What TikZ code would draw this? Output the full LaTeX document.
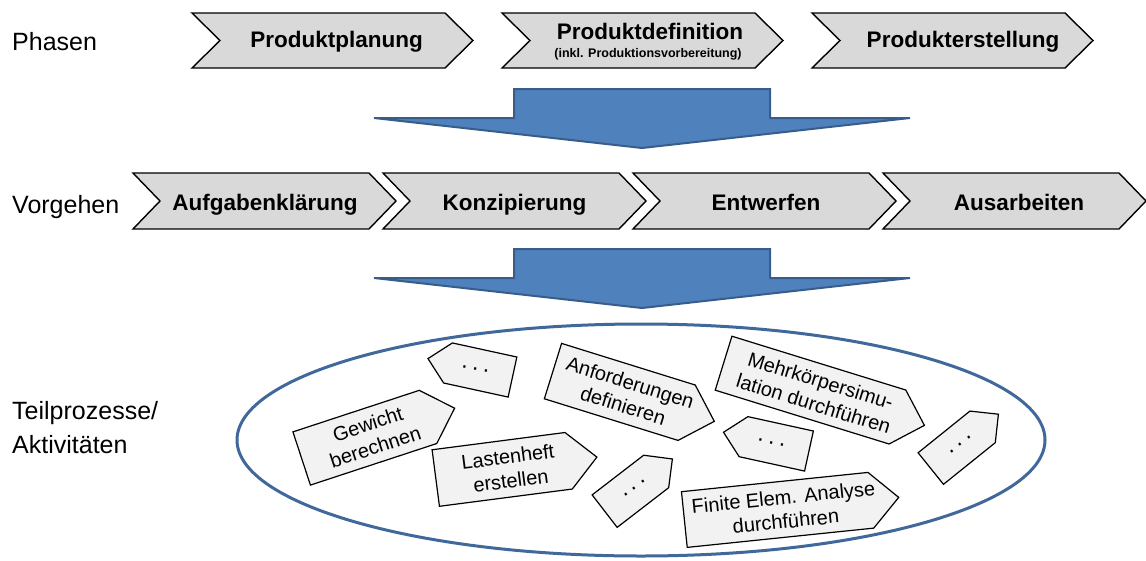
\documentclass[tikz,border=0pt]{standalone}
\usepackage{fontspec}
\setmainfont{Liberation Sans}

\definecolor{chevfill}{HTML}{D9D9D9}
\definecolor{actfill}{HTML}{F2F2F2}
\definecolor{arrowfill}{HTML}{4F81BD}
\definecolor{arrowline}{HTML}{385D8A}
\definecolor{ringline}{HTML}{41689A}

\tikzset{
  chevbox/.style={draw=black, line width=1.4pt, fill=chevfill, line join=miter},
  chevtext/.style={anchor=base, inner sep=0pt, font=\fontsize{22.5}{26}\selectfont\bfseries},
  chevsub/.style={anchor=base, inner sep=0pt, font=\fontsize{12.5}{15}\selectfont\bfseries},
  rowlabel/.style={anchor=base west, inner sep=0pt, font=\fontsize{25}{30}\selectfont},
  bigarrow/.style={draw=arrowline, line width=2pt, fill=arrowfill, line join=miter},
  ring/.style={draw=ringline, line width=3pt, fill=white},
  actbox/.style={draw=black, line width=1.2pt, fill=actfill, line join=miter},
  acttext/.style={inner sep=0pt, align=center, font=\fontsize{20}{24}\selectfont},
}

% chevron: left x, top y, total length, height, notch/tip depth
\newcommand\chevshape[5]{%
  \draw[chevbox] (#1,#2) -- ({#1+#3-#5},#2) -- ({#1+#3},{#2+#4/2})
    -- ({#1+#3-#5},{#2+#4}) -- (#1,{#2+#4}) -- ({#1+#5},{#2+#4/2}) -- cycle;}

% activity tag: name, body centre x, y, angle, body width, height, side (1 right / -1 left), text
\newcommand\activity[8]{%
  \begin{scope}[shift={(#2,#3)}, rotate=#4]
    \draw[actbox, xscale=#7] ({-#5/2},{-#6/2}) -- ({#5/2},{-#6/2}) -- ({#5/2+#6/2},0)
      -- ({#5/2},{#6/2}) -- ({-#5/2},{#6/2}) -- cycle;
    \node[acttext, rotate=#4] (#1) at ({#7*#6/8},0) {#8};
  \end{scope}}

\newcommand\threedots{{\fontsize{23}{24}\selectfont .\kern4.5pt.\kern4.5pt.}}

\begin{document}
\begin{tikzpicture}[x=1pt, y=-1pt]
\useasboundingbox (0,0) rectangle (1146,560);

% row labels
\node[rowlabel] (lphasen) at (12,50) {Phasen};
\node[rowlabel] (lvorgehen) at (12,213) {Vorgehen};
\node[rowlabel] (lteil) at (12,419) {Teilprozesse/};
\node[rowlabel] (lakt) at (12,453) {Aktivitäten};

% phases
\chevshape{192}{13}{281}{55}{28}
\chevshape{502}{13}{281}{55}{28}
\chevshape{812}{13}{281}{55}{28}
\node[chevtext] (planung) at (336.5,47.5) {Produktplanung};
\node[chevtext] (definition) at (650,39.5) {Produktdefinition};
\node[chevsub] (definitionsub) at (648,57.5) {(inkl. Produktionsvorbereitung)};
\node[chevtext] (erstellung) at (963,47.5) {Produkterstellung};

% block arrow between phases and procedure
\draw[bigarrow] (514,89) -- (770,89) -- (770,118) -- (910,118) -- (642,148)
  -- (374,118) -- (514,118) -- cycle;

% procedure steps
\chevshape{133}{173}{263}{56}{27}
\chevshape{383}{173}{263}{56}{27}
\chevshape{633}{173}{263}{56}{27}
\chevshape{883}{173}{263}{56}{27}
\node[chevtext] (klaerung) at (265,210.5) {Aufgabenklärung};
\node[chevtext] (konzept) at (514.5,210.5) {Konzipierung};
\node[chevtext] (entwurf) at (766,210.5) {Entwerfen};
\node[chevtext] (ausarb) at (1019,210.5) {Ausarbeiten};

% block arrow between procedure and activities
\draw[bigarrow] (514,249) -- (770,249) -- (770,278) -- (910,278) -- (642,308)
  -- (374,278) -- (514,278) -- cycle;

% activity pool
\draw[ring] (641,440) ellipse [x radius=404pt, y radius=116pt];

\activity{dotsa}{480.25}{370}{-12.3}{66}{41}{-1}{\threedots}
\activity{gewicht}{364.85}{437.7}{18.2}{133}{56}{1}{Gewicht\\berechnen}
\activity{lastenheft}{502.2}{469.4}{7.4}{134}{57}{1}{Lastenheft\\erstellen}
\activity{anford}{619.8}{391.9}{-17.3}{140}{58}{1}{Anforderungen\\definieren}
\activity{mks}{810.5}{390.1}{-17.2}{182}{56.5}{1}{Mehrkörpersimu-\\lation durchführen}
\activity{dotsf}{776.25}{443.85}{-12.4}{67}{41}{-1}{\threedots}
\activity{dotsg}{630.4}{491.3}{37.6}{65}{41}{1}{\threedots}
\activity{fem}{777.6}{509.9}{5.9}{187.5}{56}{1}{Finite Elem. Analyse\\durchführen}
\activity{dotsi}{956.7}{447.7}{38.8}{66.5}{40.5}{1}{\threedots}

\end{tikzpicture}
\end{document}
